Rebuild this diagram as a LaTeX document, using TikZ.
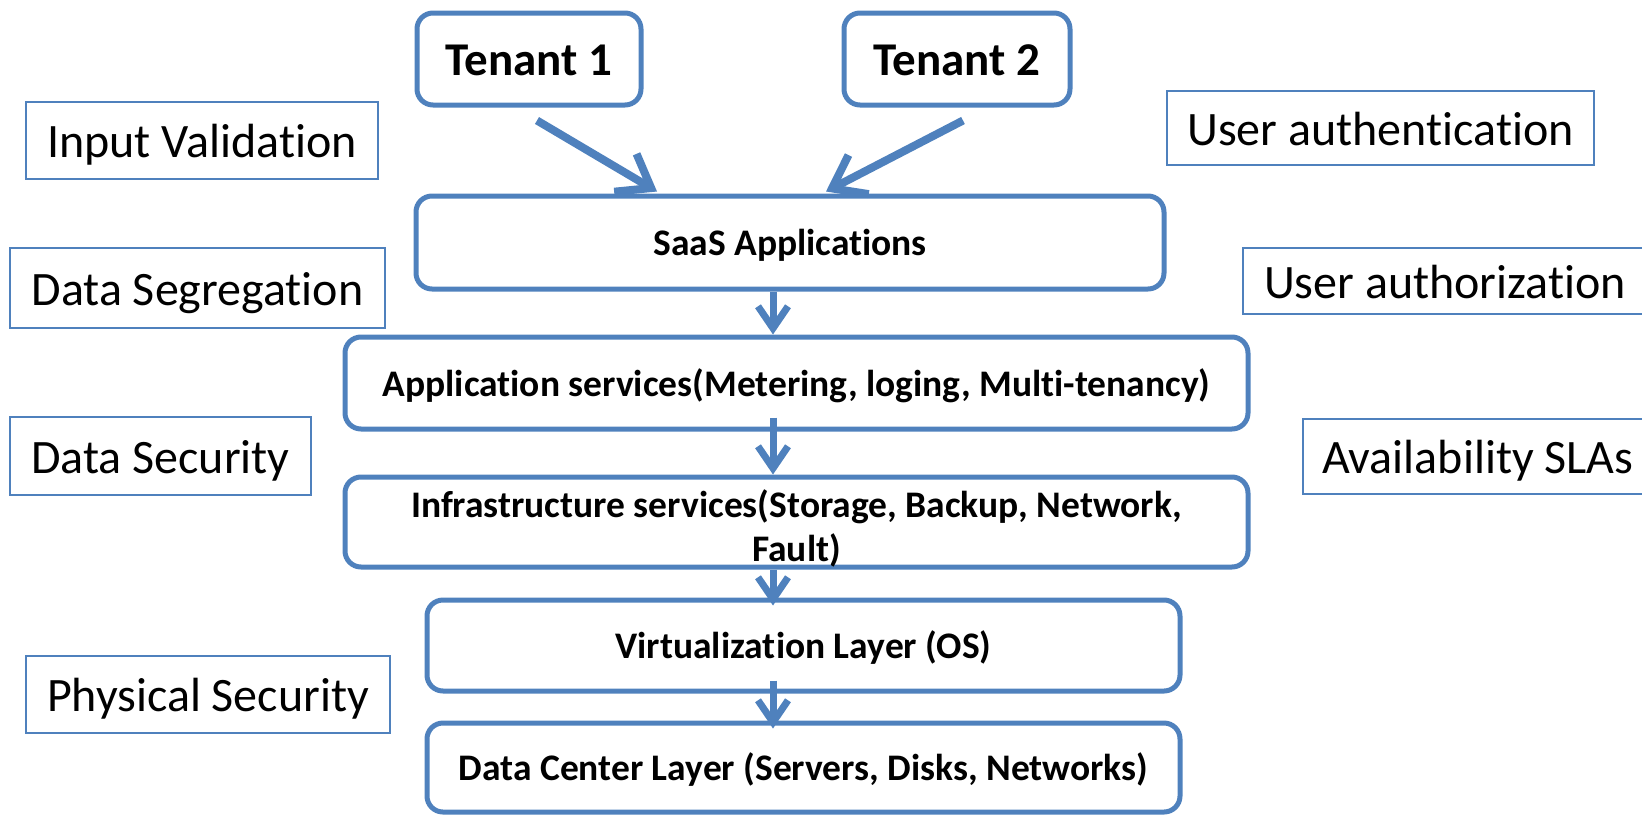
\documentclass[tikz,border=0pt]{standalone}
\usepackage{fontspec}
\setmainfont{Carlito}[Ligatures=NoCommon]
\usetikzlibrary{positioning,arrows.meta}
\definecolor{boxblue}{HTML}{4F81BD}

\begin{document}
\begin{tikzpicture}[x=1pt,y=-1pt,
  layer/.style={draw=boxblue,line width=5pt,rounded corners=16pt,inner sep=0pt,
    align=center,text height=26pt,text depth=0pt,font=\fontsize{37.5}{44}\selectfont\bfseries},
  tenant/.style={layer,text height=33pt,font=\fontsize{47}{56}\selectfont\bfseries},
  side/.style={draw=boxblue,line width=2pt,inner sep=0pt,text height=34pt,text depth=0pt,
    font=\fontsize{48}{57}\selectfont},
  flow/.style={draw=boxblue,line width=7pt,-{Straight Barb[length=22pt,width=30pt]}},
  feed/.style={draw=boxblue,line width=8pt,-{Straight Barb[length=30pt,width=44pt]}}]
\useasboundingbox (0,0) rectangle (1642,815);

% tenants and the layer stack
\node[tenant,minimum width=224pt,minimum height=92pt] (t1) at (529,59) {Tenant 1};
\node[tenant,minimum width=226pt,minimum height=92pt] (t2) at (957,59) {Tenant 2};
\node[layer,minimum width=748pt,minimum height=93pt] (saas) at (790,242.5) {SaaS Applications};
\node[layer,minimum width=903pt,minimum height=92pt] (app) at (796.5,383) {Application services(Metering, loging, Multi-tenancy)};
\node[layer,minimum width=903pt,minimum height=90pt,text height=78pt] (infra) at (796.5,522) {Infrastructure services(Storage, Backup, Network,\\ Fault)};
\node[layer,minimum width=753pt,minimum height=91pt] (virt) at (803.5,645.5) {Virtualization Layer (OS)};
\node[layer,minimum width=753pt,minimum height=89pt] (dc) at (803.5,767.5) {Data Center Layer (Servers, Disks, Networks)};

% security concerns
\node[side,minimum width=352pt,minimum height=77pt] (inval) at (202,140.5) {Input Validation};
\node[side,minimum width=375pt,minimum height=80pt] (dseg) at (197.5,288) {Data Segregation};
\node[side,minimum width=301pt,minimum height=78pt] (dsec) at (160.5,456) {Data Security};
\node[side,minimum width=364pt,minimum height=77pt] (phys) at (208,694.5) {Physical Security};
\node[side,minimum width=427pt,minimum height=74pt] (authn) at (1380.5,128) {User authentication};
\node[side,anchor=west,inner xsep=21pt,minimum height=66pt] (authz) at (1242,281) {User authorization\hspace*{60pt}};
\node[side,anchor=west,inner xsep=19pt,minimum height=75pt] (avail) at (1302,456.5) {Availability SLAs\hspace*{60pt}};

\coordinate (axis) at (773,0);
\draw[feed] ([shift={(8,13)}]t1.south)to ([shift={(-133,-2)}]saas.north);
\draw[feed] ([shift={(6,13)}]t2.south)to ([shift={(36,-2)}]saas.north);
\draw[flow] (saas.south -| axis)to (app.north -| axis);
\draw[flow,shorten <=-14pt] (app.south -| axis)to (infra.north -| axis);
\draw[flow,shorten >=-8pt] (infra.south -| axis)to (virt.north -| axis);
\draw[flow,shorten <=-13pt,shorten >=-8pt] (virt.south -| axis)to (dc.north -| axis);
\end{tikzpicture}
\end{document}
